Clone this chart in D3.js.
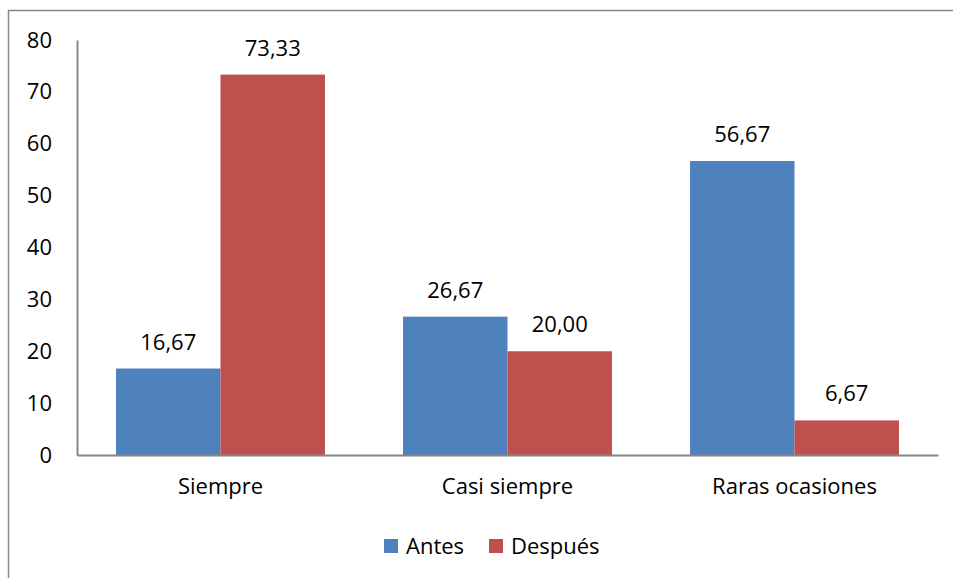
<!DOCTYPE html>
<html>
<head>
<meta charset="utf-8">
<script src="https://cdn.jsdelivr.net/npm/d3@7"></script>
<style>
  body { margin: 0; background: #fff; }
  text { font-family: "Open Sans", sans-serif; fill: #000; }
</style>
</head>
<body>
<div id="chart"></div>
<script>
// data
var categories = ["Siempre", "Casi siempre", "Raras ocasiones"];
var seriesNames = ["Antes", "Después"];
var antes = [16.67, 26.67, 56.67];
var despues = [73.33, 20.00, 6.67];
var yTicks = [0, 10, 20, 30, 40, 50, 60, 70, 80];
var colors = ["#4F81BD", "#C0504D"];

var width = 953, height = 578;
var fontSize = 22;

var svg = d3.select("#chart")
  .append("svg")
  .attr("width", width)
  .attr("height", height);

// outer frame (runs off the right and bottom)
svg.append("rect")
  .attr("x", 8.5)
  .attr("y", 10.5)
  .attr("width", 1000)
  .attr("height", 1000)
  .attr("fill", "none")
  .attr("stroke", "#888")
  .attr("stroke-width", 1.5);

var x = d3.scaleBand()
  .domain(categories)
  .range([77, 938])
  .paddingInner(0.272)
  .paddingOuter(0.136);

var x1 = d3.scaleBand()
  .domain(seriesNames)
  .range([0, x.bandwidth()]);

var y = d3.scaleLinear()
  .domain([0, 80])
  .range([455, 40]);

var rows = categories.map(function(c, i) {
  return { cat: c, values: [antes[i], despues[i]] };
});

var groups = svg.selectAll("g.grp")
  .data(rows)
  .enter()
  .append("g")
  .attr("class", "grp")
  .attr("transform", function(d) { return "translate(" + x(d.cat) + ",0)"; });

groups.selectAll("rect")
  .data(function(d) { return d.values.map(function(v, j) { return { s: seriesNames[j], v: v, j: j }; }); })
  .enter()
  .append("rect")
  .attr("x", function(d) { return x1(d.s); })
  .attr("y", function(d) { return y(d.v); })
  .attr("width", x1.bandwidth())
  .attr("height", function(d) { return y(0) - y(d.v); })
  .attr("fill", function(d) { return colors[d.j]; });

groups.selectAll("text.val")
  .data(function(d) { return d.values.map(function(v, j) { return { s: seriesNames[j], v: v }; }); })
  .enter()
  .append("text")
  .attr("class", "val")
  .attr("x", function(d) { return x1(d.s) + x1.bandwidth() / 2; })
  .attr("y", function(d) { return y(d.v) - 19; })
  .attr("text-anchor", "middle")
  .attr("font-size", fontSize)
  .text(function(d) { return d.v.toFixed(2).replace(".", ","); });

// y axis
var yAxis = svg.append("g")
  .attr("transform", "translate(77,0)")
  .call(d3.axisLeft(y).tickValues(yTicks).tickSize(0).tickPadding(25));
yAxis.select(".domain").attr("stroke", "#868686").attr("stroke-width", 2);
yAxis.selectAll("text").attr("font-size", fontSize).style("font-family", "'Open Sans', sans-serif").attr("fill", "#000");

// x axis
var xAxis = svg.append("g")
  .attr("transform", "translate(0,455)")
  .call(d3.axisBottom(x).tickSize(0).tickPadding(23));
xAxis.select(".domain").attr("stroke", "#868686").attr("stroke-width", 2);
xAxis.selectAll("text").attr("font-size", fontSize).style("font-family", "'Open Sans', sans-serif").attr("fill", "#000");

// legend
var legendX = [384, 489];
var legend = svg.selectAll("g.leg")
  .data(seriesNames)
  .enter()
  .append("g")
  .attr("class", "leg")
  .attr("transform", function(d, i) { return "translate(" + legendX[i] + ",539)"; });
legend.append("rect")
  .attr("width", 14)
  .attr("height", 14)
  .attr("fill", function(d, i) { return colors[i]; });
legend.append("text")
  .attr("x", 22)
  .attr("y", 15)
  .attr("font-size", fontSize)
  .text(function(d) { return d; });
</script>
</body>
</html>
